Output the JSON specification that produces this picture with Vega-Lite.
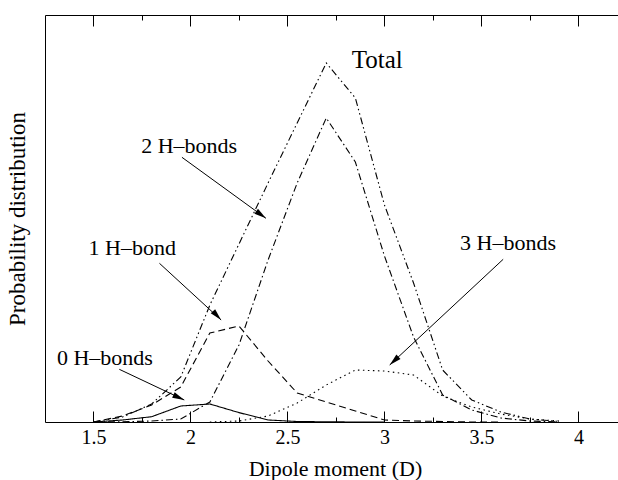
{
  "$schema": "https://vega.github.io/schema/vega-lite/v6.json",
  "width": 573,
  "height": 407,
  "autosize": "none",
  "padding": {"left": 45, "top": 15, "right": 0, "bottom": 58},
  "background": "white",
  "config": {
    "font": "Liberation Serif",
    "view": {"stroke": null},
    "axis": {"domainColor": "black", "domainWidth": 1, "tickColor": "black", "tickWidth": 1, "labelColor": "black", "titleColor": "black", "grid": false, "titleFontWeight": "normal"}
  },
  "datasets": {
    "curves": [
      {"x": 1.5, "series": "0 H-bonds", "p": 0}, {"x": 1.65, "series": "0 H-bonds", "p": 0.02}, {"x": 1.8, "series": "0 H-bonds", "p": 0.053}, {"x": 1.95, "series": "0 H-bonds", "p": 0.16}, {"x": 2.1, "series": "0 H-bonds", "p": 0.18}, {"x": 2.25, "series": "0 H-bonds", "p": 0.094}, {"x": 2.4, "series": "0 H-bonds", "p": 0.02}, {"x": 2.55, "series": "0 H-bonds", "p": 0.005}, {"x": 2.7, "series": "0 H-bonds", "p": 0.002}, {"x": 2.85, "series": "0 H-bonds", "p": 0}, {"x": 3.0, "series": "0 H-bonds", "p": 0},
      {"x": 1.5, "series": "1 H-bond", "p": 0}, {"x": 1.65, "series": "1 H-bond", "p": 0.06}, {"x": 1.8, "series": "1 H-bond", "p": 0.17}, {"x": 1.95, "series": "1 H-bond", "p": 0.35}, {"x": 2.1, "series": "1 H-bond", "p": 0.89}, {"x": 2.25, "series": "1 H-bond", "p": 0.96}, {"x": 2.4, "series": "1 H-bond", "p": 0.61}, {"x": 2.55, "series": "1 H-bond", "p": 0.29}, {"x": 2.7, "series": "1 H-bond", "p": 0.2}, {"x": 2.85, "series": "1 H-bond", "p": 0.11}, {"x": 3.0, "series": "1 H-bond", "p": 0.02}, {"x": 3.15, "series": "1 H-bond", "p": 0.01}, {"x": 3.3, "series": "1 H-bond", "p": 0.005}, {"x": 3.45, "series": "1 H-bond", "p": 0}, {"x": 3.6, "series": "1 H-bond", "p": 0},
      {"x": 1.5, "series": "2 H-bonds", "p": 0}, {"x": 1.65, "series": "2 H-bonds", "p": 0.003}, {"x": 1.8, "series": "2 H-bonds", "p": 0.01}, {"x": 1.95, "series": "2 H-bonds", "p": 0.03}, {"x": 2.1, "series": "2 H-bonds", "p": 0.2}, {"x": 2.25, "series": "2 H-bonds", "p": 0.77}, {"x": 2.4, "series": "2 H-bonds", "p": 1.62}, {"x": 2.55, "series": "2 H-bonds", "p": 2.39}, {"x": 2.7, "series": "2 H-bonds", "p": 3.04}, {"x": 2.85, "series": "2 H-bonds", "p": 2.6}, {"x": 3.0, "series": "2 H-bonds", "p": 1.66}, {"x": 3.15, "series": "2 H-bonds", "p": 0.85}, {"x": 3.3, "series": "2 H-bonds", "p": 0.27}, {"x": 3.45, "series": "2 H-bonds", "p": 0.12}, {"x": 3.6, "series": "2 H-bonds", "p": 0.04}, {"x": 3.75, "series": "2 H-bonds", "p": 0.01}, {"x": 3.9, "series": "2 H-bonds", "p": 0},
      {"x": 2.1, "series": "3 H-bonds", "p": 0}, {"x": 2.25, "series": "3 H-bonds", "p": 0.01}, {"x": 2.4, "series": "3 H-bonds", "p": 0.06}, {"x": 2.55, "series": "3 H-bonds", "p": 0.19}, {"x": 2.7, "series": "3 H-bonds", "p": 0.37}, {"x": 2.85, "series": "3 H-bonds", "p": 0.52}, {"x": 3.0, "series": "3 H-bonds", "p": 0.51}, {"x": 3.15, "series": "3 H-bonds", "p": 0.47}, {"x": 3.3, "series": "3 H-bonds", "p": 0.26}, {"x": 3.45, "series": "3 H-bonds", "p": 0.15}, {"x": 3.6, "series": "3 H-bonds", "p": 0.08}, {"x": 3.75, "series": "3 H-bonds", "p": 0.03}, {"x": 3.9, "series": "3 H-bonds", "p": 0.01},
      {"x": 1.5, "series": "Total", "p": 0}, {"x": 1.65, "series": "Total", "p": 0.05}, {"x": 1.8, "series": "Total", "p": 0.18}, {"x": 1.95, "series": "Total", "p": 0.45}, {"x": 2.1, "series": "Total", "p": 1.17}, {"x": 2.25, "series": "Total", "p": 1.78}, {"x": 2.4, "series": "Total", "p": 2.39}, {"x": 2.55, "series": "Total", "p": 2.99}, {"x": 2.7, "series": "Total", "p": 3.59}, {"x": 2.85, "series": "Total", "p": 3.24}, {"x": 3.0, "series": "Total", "p": 2.17}, {"x": 3.15, "series": "Total", "p": 1.39}, {"x": 3.3, "series": "Total", "p": 0.52}, {"x": 3.45, "series": "Total", "p": 0.22}, {"x": 3.6, "series": "Total", "p": 0.1}, {"x": 3.75, "series": "Total", "p": 0.03}, {"x": 3.9, "series": "Total", "p": 0.005}
    ],
    "labels": [
      {"label": "Total", "x": 2.963, "y": 3.54},
      {"label": "2 H–bonds", "x": 1.993, "y": 2.687},
      {"label": "1 H–bond", "x": 1.70, "y": 1.67},
      {"label": "0 H–bonds", "x": 1.559, "y": 0.57},
      {"label": "3 H–bonds", "x": 3.637, "y": 1.72}
    ],
    "arrows": [
      {"label": "2 H–bonds", "x": 1.956, "y": 2.647, "x2": 2.389, "y2": 2.037},
      {"label": "1 H–bond", "x": 1.840, "y": 1.587, "x2": 2.158, "y2": 1.02},
      {"label": "0 H–bonds", "x": 1.633, "y": 0.527, "x2": 1.968, "y2": 0.22},
      {"label": "3 H–bonds", "x": 3.612, "y": 1.627, "x2": 3.027, "y2": 0.57}
    ]
  },
  "layer": [
    {
      "data": {"name": "curves"},
      "mark": {"type": "line", "color": "black", "strokeWidth": 1.1},
      "encoding": {
        "x": {"field": "x", "type": "quantitative", "scale": {"domain": [1.25, 4.204], "nice": false, "zero": false},
          "axis": {"orient": "bottom", "title": "Dipole moment (D)", "values": [1.5, 2, 2.5, 3, 3.5, 4], "format": "~g",
            "tickSize": -11, "labelFontSize": 20, "labelBaseline": "top", "labelPadding": 16, "labelFlush": false,
            "titleFontSize": 22, "titleY": 53, "titleX": 290, "titleBaseline": "alphabetic"}},
        "y": {"field": "p", "type": "quantitative", "scale": {"domain": [0, 4.07], "nice": false},
          "axis": {"orient": "left", "title": "Probability distribution", "ticks": false, "labels": false, "domain": true, "titleFontSize": 23, "titleX": -21, "titleBaseline": "alphabetic"}},
        "detail": {"field": "series"},
        "strokeDash": {"field": "series", "type": "nominal", "legend": null,
          "scale": {"domain": ["0 H-bonds", "1 H-bond", "2 H-bonds", "3 H-bonds", "Total"],
            "range": [[1, 0], [7, 4], [7, 3, 1.5, 3], [1.5, 3.5], [7, 3, 1.5, 3, 1.5, 3]]}}
      }
    },
    {
      "data": {"name": "arrows"},
      "mark": {"type": "rule", "color": "black", "strokeWidth": 1},
      "encoding": {
        "x": {"field": "x", "type": "quantitative", "scale": {"domain": [1.25, 4.204], "nice": false, "zero": false},
          "axis": {"orient": "bottom", "title": null, "labels": false, "domain": false, "values": [1.75, 2.25, 2.75, 3.25, 3.75], "tickSize": -5}},
        "y": {"field": "y", "type": "quantitative", "scale": {"domain": [0, 4.07], "nice": false}, "axis": null},
        "x2": {"field": "x2"},
        "y2": {"field": "y2"}
      }
    },
    {
      "data": {"name": "arrows"},
      "transform": [{"filter": "datum.label === '2 H–bonds'"}],
      "mark": {"type": "point", "shape": "M0,0L-0.6,2.4L0.6,2.4Z", "filled": true, "color": "black", "opacity": 1, "size": 100, "angle": 126},
      "encoding": {
        "x": {"field": "x2", "type": "quantitative", "scale": {"domain": [1.25, 4.204], "nice": false, "zero": false},
          "axis": {"orient": "top", "title": null, "labels": false, "domain": false, "values": [1.75, 2.25, 2.75, 3.25, 3.75], "tickSize": -5}},
        "y": {"field": "y2", "type": "quantitative", "axis": null}}
    },
    {
      "data": {"name": "arrows"},
      "transform": [{"filter": "datum.label === '1 H–bond'"}],
      "mark": {"type": "point", "shape": "M0,0L-0.6,2.4L0.6,2.4Z", "filled": true, "color": "black", "opacity": 1, "size": 100, "angle": 137},
      "encoding": {"x": {"field": "x2", "type": "quantitative", "axis": null}, "y": {"field": "y2", "type": "quantitative", "axis": null}}
    },
    {
      "data": {"name": "arrows"},
      "transform": [{"filter": "datum.label === '0 H–bonds'"}],
      "mark": {"type": "point", "shape": "M0,0L-0.6,2.4L0.6,2.4Z", "filled": true, "color": "black", "opacity": 1, "size": 100, "angle": 115},
      "encoding": {"x": {"field": "x2", "type": "quantitative", "axis": null}, "y": {"field": "y2", "type": "quantitative", "axis": null}}
    },
    {
      "data": {"name": "arrows"},
      "transform": [{"filter": "datum.label === '3 H–bonds'"}],
      "mark": {"type": "point", "shape": "M0,0L-0.6,2.4L0.6,2.4Z", "filled": true, "color": "black", "opacity": 1, "size": 100, "angle": 227},
      "encoding": {"x": {"field": "x2", "type": "quantitative", "axis": null}, "y": {"field": "y2", "type": "quantitative", "axis": null}}
    },
    {
      "data": {"name": "labels"},
      "mark": {"type": "text", "color": "black", "align": "center", "baseline": "alphabetic"},
      "encoding": {
        "x": {"field": "x", "type": "quantitative", "scale": {"domain": [1.25, 4.204], "nice": false, "zero": false},
          "axis": {"orient": "top", "title": null, "labels": false, "domain": true, "values": [1.5, 2, 2.5, 3, 3.5, 4], "tickSize": -11}},
        "y": {"field": "y", "type": "quantitative", "axis": null},
        "text": {"field": "label"},
        "size": {"condition": {"test": "datum.label === 'Total'", "value": 25}, "value": 22}
      }
    }
  ],
  "resolve": {"axis": {"x": "independent", "y": "independent"}}
}
